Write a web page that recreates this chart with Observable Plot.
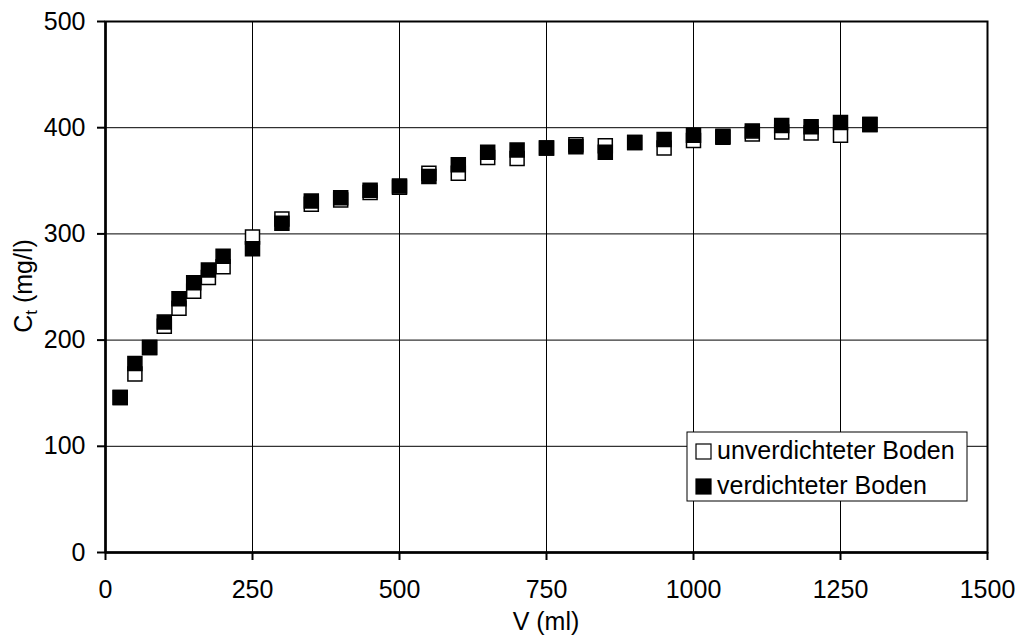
<!DOCTYPE html>
<html>
<head>
<meta charset="utf-8">
<script src="https://cdn.jsdelivr.net/npm/d3@7"></script>
<script src="https://cdn.jsdelivr.net/npm/@observablehq/plot@0.6"></script>
<style>
  html, body { margin: 0; padding: 0; background: white; }
</style>
</head>
<body>
<div id="chart"></div>
<script>
// Eluted volume V (ml)
const volume = [25, 50, 75, 100, 125, 150, 175, 200, 250, 300, 350, 400, 450, 500, 550,
                600, 650, 700, 750, 800, 850, 900, 950, 1000, 1050, 1100, 1150, 1200, 1250, 1300];

// Concentration C_t (mg/l), uncompacted soil
const unverdichtet = [146, 168, 193, 213, 230, 246, 259, 269, 297, 314, 328, 332, 339, 344, 357,
                      357, 372, 371, 381, 384, 383, 386, 381, 388, 391, 394, 396, 395, 393, 403];

// Concentration C_t (mg/l), compacted soil
const verdichtet = [146, 178, 193, 217, 239, 254, 266, 279, 286, 310, 331, 334, 341, 345, 354,
                    365, 377, 379, 381, 382, 377, 386, 389, 393, 392, 397, 402, 401, 405, 403];

const seriesNames = ["unverdichteter Boden", "verdichteter Boden"];
const seriesFills = ["white", "black"];

const xTicks = [0, 250, 500, 750, 1000, 1250, 1500];
const yTicks = [0, 100, 200, 300, 400, 500];

const xLabel = "V (ml)";
const yLabelMain = "C";
const yLabelSub = "t";
const yLabelRest = " (mg/l)";

const rowsU = volume.map((v, i) => ({V: v, C: unverdichtet[i], serie: seriesNames[0]}));
const rowsV = volume.map((v, i) => ({V: v, C: verdichtet[i], serie: seriesNames[1]}));

const font = "'Liberation Sans', Arial, Helvetica, sans-serif";
const fontSize = 25;

const chart = Plot.plot({
  width: 1018,
  height: 638,
  marginLeft: 105,
  marginRight: 31,
  marginTop: 21,
  marginBottom: 86,
  style: {fontFamily: font, fontSize: fontSize + "px", color: "black", background: "white"},
  x: {domain: [0, 1500], label: null},
  y: {domain: [0, 500], label: null},
  marks: [
    Plot.gridX(xTicks, {stroke: "black", strokeOpacity: 1, strokeWidth: 1}),
    Plot.gridY(yTicks, {stroke: "black", strokeOpacity: 1, strokeWidth: 1}),
    Plot.frame({stroke: "black", strokeWidth: 2}),
    Plot.axisX(xTicks, {tickSize: 8, tickPadding: 20, strokeWidth: 2, tickFormat: d => String(d), label: null}),
    Plot.axisY(yTicks, {tickSize: 8, tickPadding: 12, strokeWidth: 2, tickFormat: d => String(d), label: null}),
    Plot.ruleX([0], {stroke: "black", strokeWidth: 2.5}),
    Plot.ruleY([0], {stroke: "black", strokeWidth: 2.5}),
    // open squares first, filled squares drawn over them
    Plot.dot(rowsU, {x: "V", y: "C", symbol: "square", r: 7.9, fill: seriesFills[0], stroke: "black", strokeWidth: 1.5}),
    Plot.dot(rowsV, {x: "V", y: "C", symbol: "square", r: 7.9, fill: seriesFills[1], stroke: "black", strokeWidth: 1.5})
  ]
});

document.getElementById("chart").appendChild(chart);

const svg = d3.select(chart);

// Axis titles
svg.append("text")
  .attr("x", 546).attr("y", 630)
  .attr("text-anchor", "middle")
  .attr("font-family", font).attr("font-size", fontSize).attr("fill", "black")
  .text(xLabel);

const yl = svg.append("text")
  .attr("transform", "translate(32,286) rotate(-90)")
  .attr("text-anchor", "middle")
  .attr("font-family", font).attr("font-size", fontSize).attr("fill", "black");
yl.append("tspan").text(yLabelMain);
yl.append("tspan").attr("font-size", 17).attr("dy", 5).text(yLabelSub);
yl.append("tspan").attr("dy", -5).text(yLabelRest);

// Legend box inside the plot area
const lg = svg.append("g")
  .attr("font-family", font).attr("font-size", fontSize)
  .attr("text-anchor", "start");
lg.append("rect")
  .attr("x", 687).attr("y", 432).attr("width", 280).attr("height", 69)
  .attr("fill", "white").attr("stroke", "black").attr("stroke-width", 1);
seriesNames.forEach((name, i) => {
  const base = 459 + i * 35;
  lg.append("rect")
    .attr("x", 696).attr("y", base - 15).attr("width", 15).attr("height", 15)
    .attr("fill", seriesFills[i]).attr("stroke", "black").attr("stroke-width", 1.2);
  lg.append("text")
    .attr("x", 717).attr("y", base)
    .attr("text-anchor", "start")
    .attr("fill", "black")
    .text(name);
});
</script>
</body>
</html>
